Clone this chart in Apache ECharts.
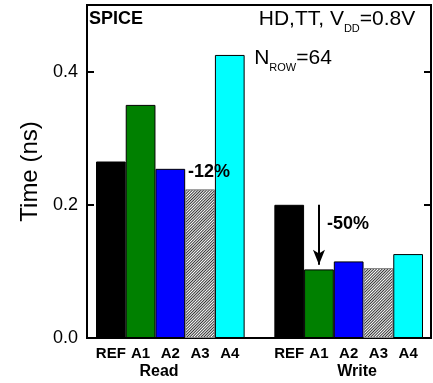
<!DOCTYPE html>
<html><head><meta charset="utf-8">
<script src="https://cdn.jsdelivr.net/npm/echarts@6/dist/echarts.min.js"></script>
<style>html,body{margin:0;padding:0;background:#fff}#c{width:433px;height:383px}</style>
</head><body><div id="c"></div>
<script>
// ---- data ----
const categories = ['REF', 'A1', 'A2', 'A3', 'A4', '', 'REF', 'A1', 'A2', 'A3', 'A4'];
const groups = ['Read', 'Write'];
const readTimes = [0.265, 0.350, 0.254, 0.223, 0.425];
const writeTimes = [0.200, 0.103, 0.115, 0.105, 0.126];
const yMin = 0.0, yMax = 0.5, yStep = 0.2;
const readDelta = '-12%';
const writeDelta = '-50%';
const arrowFrom = 0.200, arrowTo = 0.110;   // write: REF level down towards A1
// ---- styles ----
const FONT = '"Liberation Sans", Arial, sans-serif';
const hatch = {
  color: '#ffffff', borderColor: '#888888', borderWidth: 1,
  decal: { symbol: 'rect', symbolSize: 1, color: '#333333', backgroundColor: '#ffffff',
           dashArrayX: [1, 0], dashArrayY: [1, 1], rotation: -Math.PI / 4 }
};
const barStyles = [
  { color: '#000000', borderColor: '#000000', borderWidth: 1 },
  { color: '#008000', borderColor: '#000000', borderWidth: 1 },
  { color: '#0000ff', borderColor: '#000000', borderWidth: 1 },
  hatch,
  { color: '#00ffff', borderColor: '#000000', borderWidth: 1 }
];

function items(vals) { return vals.map((v, i) => ({ value: v, itemStyle: barStyles[i] })); }
const seriesData = items(readTimes).concat([null]).concat(items(writeTimes));

const chart = echarts.init(document.getElementById('c'), null, { renderer: 'canvas' });
const yCommon = {
  type: 'value', min: yMin, max: yMax, interval: yStep,
  splitLine: { show: false }
};
chart.setOption({
  animation: false,
  backgroundColor: '#ffffff',
  grid: [
    { left: 87, top: 5, width: 344, height: 333, show: true, borderColor: '#000', borderWidth: 2, backgroundColor: 'transparent' },
    { left: 96, top: 5, width: 327, height: 333 }
  ],
  xAxis: [
    { gridIndex: 0, type: 'value', min: 0, max: 1, show: false },
    { gridIndex: 1, type: 'category', data: categories,
      axisLine: { show: false }, axisTick: { show: false },
      axisLabel: { interval: 0, hideOverlap: false, margin: 8, color: '#000', fontWeight: 'bold', fontSize: 15, fontFamily: FONT } }
  ],
  yAxis: [
    Object.assign({}, yCommon, { gridIndex: 0, position: 'left',
      name: 'Time (ns)', nameLocation: 'middle', nameGap: 45,
      nameTextStyle: { fontSize: 24, color: '#000', fontFamily: FONT },
      axisLine: { show: true, lineStyle: { color: '#000', width: 2 } },
      axisTick: { show: true, inside: true, length: 7, lineStyle: { color: '#000', width: 2 } },
      axisLabel: { showMaxLabel: false, margin: 9, color: '#000', fontSize: 18, fontFamily: FONT,
                   formatter: v => v.toFixed(1) } }),
    Object.assign({}, yCommon, { gridIndex: 0, position: 'right',
      axisLine: { show: true, lineStyle: { color: '#000', width: 2 } },
      axisTick: { show: true, inside: true, length: 7, lineStyle: { color: '#000', width: 2 } },
      axisLabel: { show: false } }),
    Object.assign({}, yCommon, { gridIndex: 1, show: false })
  ],
  series: [{
    type: 'bar', xAxisIndex: 1, yAxisIndex: 2, barWidth: '100%', barGap: '0%',
    data: seriesData,
    markLine: {
      silent: true, symbol: ['none', 'arrow'], symbolSize: [9, 15],
      lineStyle: { color: '#000', width: 2, type: 'solid' },
      label: { show: false },
      data: [[{ coord: [7, arrowFrom] }, { coord: [7, arrowTo] }]]
    }
  }],
  graphic: [
    { type: 'text', x: 89, y: 10, style: { text: 'SPICE', font: 'bold 18px ' + FONT, fill: '#000' } },
    { type: 'text', x: 337, y: 9, style: {
        text: '{a|HD,TT, V}{s|DD}{a|=0.8V}', align: 'center', fill: '#000',
        rich: { a: { fontSize: 21, fontFamily: FONT, lineHeight: 25, verticalAlign: 'top' },
                s: { fontSize: 11, fontFamily: FONT, lineHeight: 12, verticalAlign: 'bottom' } } } },
    { type: 'text', x: 293, y: 48, style: {
        text: '{a|N}{s|ROW}{a|=64}', align: 'center', fill: '#000',
        rich: { a: { fontSize: 21, fontFamily: FONT, lineHeight: 25, verticalAlign: 'top' },
                s: { fontSize: 11, fontFamily: FONT, lineHeight: 12, verticalAlign: 'bottom' } } } },
    { type: 'text', x: 209, y: 172, z: 100, style: { text: readDelta, font: 'bold 18px ' + FONT, fill: '#000', align: 'center', verticalAlign: 'middle' } },
    { type: 'text', x: 348, y: 224, z: 100, style: { text: writeDelta, font: 'bold 18px ' + FONT, fill: '#000', align: 'center', verticalAlign: 'middle' } },
    { type: 'text', x: 159, y: 372, style: { text: groups[0], font: 'bold 16px ' + FONT, fill: '#000', align: 'center', verticalAlign: 'middle' } },
    { type: 'text', x: 357, y: 372, style: { text: groups[1], font: 'bold 16px ' + FONT, fill: '#000', align: 'center', verticalAlign: 'middle' } }
  ]
});
</script></body></html>
